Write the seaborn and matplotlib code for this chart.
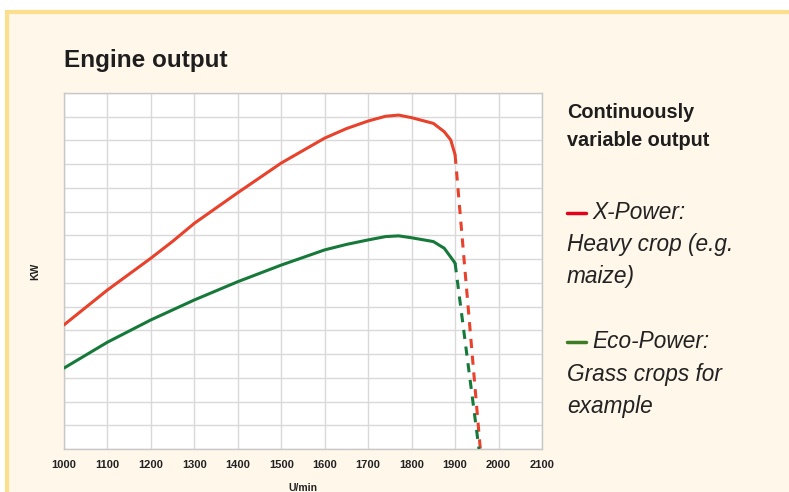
import matplotlib
matplotlib.use("Agg")
import matplotlib.pyplot as plt
import seaborn as sns
import pandas as pd
from matplotlib.lines import Line2D

# ---- data ----
rpm = [1000, 1100, 1200, 1250, 1300, 1400, 1500, 1600, 1650, 1700, 1740, 1770, 1800, 1850, 1875, 1890, 1900]
xpower = [5.23, 6.70, 8.04, 8.75, 9.51, 10.80, 12.05, 13.10, 13.50, 13.82, 14.02, 14.07, 13.96, 13.72, 13.37, 13.02, 12.40]
eco_rpm = [1000, 1100, 1200, 1300, 1400, 1500, 1600, 1650, 1700, 1740, 1770, 1800, 1850, 1875, 1895, 1900]
ecopower = [3.41, 4.50, 5.44, 6.28, 7.05, 7.75, 8.39, 8.62, 8.81, 8.95, 8.98, 8.90, 8.74, 8.46, 7.96, 7.83]
xpower_drop_rpm = [1900, 1958]
xpower_drop = [12.40, 0.0]
eco_drop_rpm = [1900, 1955]
eco_drop = [7.83, 0.0]
xticks = list(range(1000, 2101, 100))

RED = "#E8412C"
GREEN = "#16793A"
BG = "#FEF7EA"

sns.set_theme(style="white")
plt.rcParams["font.family"] = ["Liberation Sans", "DejaVu Sans"]

fig = plt.figure(figsize=(7.89, 4.92), dpi=100, facecolor="white")
# cream panel with yellow border (top and left)
fig.patches.append(plt.Rectangle((6 / 789, 0), 1, 1 - 12 / 492, transform=fig.transFigure,
                                 facecolor=BG, edgecolor="none", zorder=-5))
fig.lines.append(Line2D([6.5 / 789, 6.5 / 789], [0, 1 - 11.5 / 492], transform=fig.transFigure,
                        color="#FBDF8C", lw=3, solid_capstyle="butt", zorder=-4))
fig.lines.append(Line2D([5 / 789, 1], [1 - 11.5 / 492, 1 - 11.5 / 492], transform=fig.transFigure,
                        color="#FBDF8C", lw=3, solid_capstyle="butt", zorder=-4))

ax = fig.add_axes([64 / 789, 43 / 492, (542 - 64) / 789, (449 - 93) / 492])
ax.set_zorder(2)
ax.set_facecolor("white")

df_x = pd.DataFrame({"rpm": rpm, "kw": xpower})
df_e = pd.DataFrame({"rpm": eco_rpm, "kw": ecopower})
df_xd = pd.DataFrame({"rpm": xpower_drop_rpm, "kw": xpower_drop})
df_ed = pd.DataFrame({"rpm": eco_drop_rpm, "kw": eco_drop})

sns.lineplot(data=df_x, x="rpm", y="kw", ax=ax, color=RED, lw=2.2, zorder=3)
sns.lineplot(data=df_e, x="rpm", y="kw", ax=ax, color=GREEN, lw=2.2, zorder=3)
sns.lineplot(data=df_xd, x="rpm", y="kw", ax=ax, color=RED, lw=2.2, zorder=3, linestyle=(0, (3, 2.5)))
sns.lineplot(data=df_ed, x="rpm", y="kw", ax=ax, color=GREEN, lw=2.2, zorder=3, linestyle=(0, (3, 2.5)))

ax.set_xlim(1000, 2100)
ax.set_ylim(0, 15)
ax.set_xticks(xticks)
ax.set_xticklabels([str(t) for t in xticks], fontsize=8, fontweight="bold", color="#222222")
ax.set_yticks(range(0, 16))
ax.set_yticklabels([])
ax.tick_params(axis="both", length=0, pad=8)
ax.grid(True, color="#D9D9D9", lw=1)
ax.set_axisbelow(True)
for s in ax.spines.values():
    s.set_color("#C8C8C8")
    s.set_linewidth(1)
ax.set_xlabel("U/min", fontsize=7.5, fontweight="bold", color="#222222", labelpad=9)
ax.set_ylabel("KW", fontsize=7.5, fontweight="bold", color="#222222", labelpad=9)

# title
fig.text(64 / 789, 1 - 61 / 492, "Engine output", fontsize=17.5, fontweight="bold",
         color="#1E1E1E", va="center", ha="left")

# legend-like text block
tx = 567 / 789
HS = 14.3
fig.text(tx, 1 - 112 / 492, "Continuously", fontsize=HS, fontweight="bold",
         color="#1E1E1E", va="center")
fig.text(tx, 1 - 141 / 492, "variable output", fontsize=HS, fontweight="bold",
         color="#1E1E1E", va="center")

LS = 16.3
fig.lines.append(Line2D([567 / 789, 586 / 789], [1 - 213 / 492] * 2, transform=fig.transFigure,
                        color="#E3001B", lw=2.5))
fig.text(592 / 789, 1 - 213 / 492, "X-Power:", fontsize=LS, style="italic", color="#222222", va="center")
fig.text(tx, 1 - 245 / 492, "Heavy crop (e.g.", fontsize=LS, style="italic", color="#222222", va="center")
fig.text(tx, 1 - 277 / 492, "maize)", fontsize=LS, style="italic", color="#222222", va="center")

fig.lines.append(Line2D([567 / 789, 586 / 789], [1 - 342 / 492] * 2, transform=fig.transFigure,
                        color="#3C7D23", lw=2.5))
fig.text(592 / 789, 1 - 342 / 492, "Eco-Power:", fontsize=LS, style="italic", color="#222222", va="center")
fig.text(tx, 1 - 374 / 492, "Grass crops for", fontsize=LS, style="italic", color="#222222", va="center")
fig.text(tx, 1 - 406 / 492, "example", fontsize=LS, style="italic", color="#222222", va="center")

fig.savefig("out.png", dpi=100, facecolor=fig.get_facecolor())
